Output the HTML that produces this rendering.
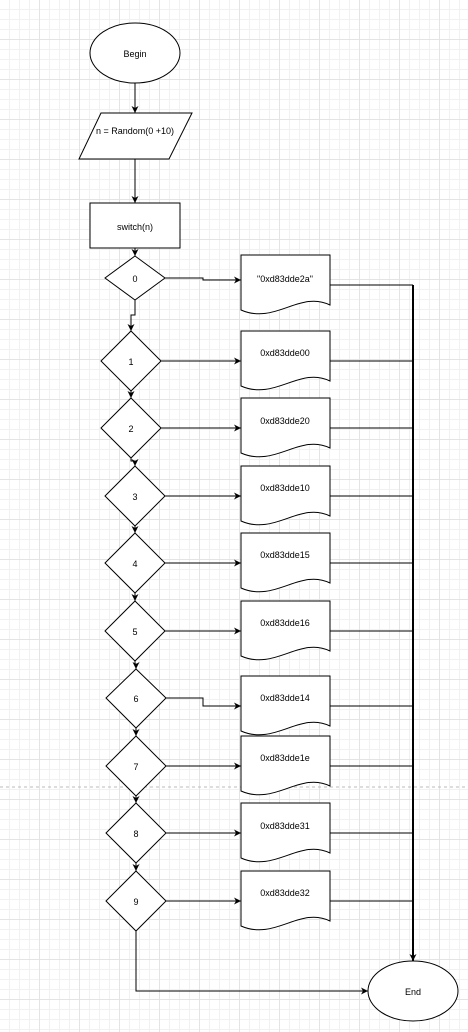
<!DOCTYPE html>
<html><head><meta charset="utf-8"><style>
html,body{margin:0;padding:0;}
body{width:468px;height:1032px;overflow:hidden;background-color:#fff;
background-image:linear-gradient(#e4e4e4 1px,transparent 1px),linear-gradient(90deg,#e4e4e4 1px,transparent 1px),linear-gradient(#f1f1f1 1px,transparent 1px),linear-gradient(90deg,#f1f1f1 1px,transparent 1px);
background-size:40px 40px,40px 40px,10px 10px,10px 10px;background-position:-1px -1px;}
svg{position:absolute;left:0;top:0;}
text{font-family:"Liberation Sans",sans-serif;font-size:9px;fill:#000;text-anchor:middle;}
</style></head><body>
<svg width="468" height="1032" viewBox="0 0 468 1032">
<defs><marker id="a" markerWidth="8" markerHeight="8" refX="7" refY="4" orient="auto" markerUnits="userSpaceOnUse"><path d="M0,0.5 L7,4 L0,7.5 L2,4 Z" fill="#000"/></marker></defs>
<line x1="0" y1="787" x2="468" y2="787" stroke="#bbb" stroke-dasharray="3,3" stroke-width="1"/>
<g stroke="#000" stroke-width="1" fill="#fff">
<ellipse cx="135" cy="53" rx="45" ry="30"/>
<polygon points="101,113 192,113 169,159 79,159"/>
<rect x="90" y="203" width="90" height="45"/>
<polygon points="135,256 165,278 135,300 105,278"/>
<polygon points="131,331 161,361 131,391 101,361"/>
<polygon points="131,398 161,428 131,458 101,428"/>
<polygon points="135,466 165,496 135,526 105,496"/>
<polygon points="135,533 165,563 135,593 105,563"/>
<polygon points="135,601 165,631 135,661 105,631"/>
<polygon points="136,669 166,698 136,728 106,698"/>
<polygon points="136,736 166,766 136,796 106,766"/>
<polygon points="136,803 166,833 136,863 106,833"/>
<polygon points="136,871 166,901 136,931 106,901"/>
<ellipse cx="413" cy="991" rx="45" ry="30"/>
</g>
<g stroke="#000" stroke-width="1" fill="#fff">
<path d="M241,255 H330 V305 C300,290 275,325 241,310 Z"/>
<path d="M241,331 H330 V381 C300,366 275,401 241,386 Z"/>
<path d="M241,398 H330 V448 C300,433 275,468 241,453 Z"/>
<path d="M241,466 H330 V516 C300,501 275,536 241,521 Z"/>
<path d="M241,533 H330 V583 C300,568 275,603 241,588 Z"/>
<path d="M241,601 H330 V651 C300,636 275,671 241,656 Z"/>
<path d="M241,676 H330 V726 C300,711 275,746 241,731 Z"/>
<path d="M241,736 H330 V786 C300,771 275,806 241,791 Z"/>
<path d="M241,803 H330 V853 C300,838 275,873 241,858 Z"/>
<path d="M241,871 H330 V921 C300,906 275,941 241,926 Z"/>
</g>
<g stroke="#000" stroke-width="1" fill="none" marker-end="url(#a)">
<line x1="135" y1="83" x2="135" y2="113"/>
<line x1="135" y1="159" x2="135" y2="203"/>
<line x1="135" y1="248" x2="135" y2="256"/>
<path d="M165,278 H203 V280 H241"/>
<path d="M135,300 V315 H131 V331"/>
<line x1="131" y1="391" x2="131" y2="398"/>
<path d="M131,458 V461 H135 V466"/>
<line x1="135" y1="526" x2="135" y2="533"/>
<line x1="135" y1="593" x2="135" y2="601"/>
<path d="M135,661 V664 H136 V669"/>
<line x1="136" y1="728" x2="136" y2="736"/>
<line x1="136" y1="796" x2="136" y2="803"/>
<line x1="136" y1="863" x2="136" y2="871"/>
<line x1="161" y1="361" x2="241" y2="361"/>
<line x1="161" y1="428" x2="241" y2="428"/>
<line x1="165" y1="496" x2="241" y2="496"/>
<line x1="165" y1="563" x2="241" y2="563"/>
<line x1="165" y1="631" x2="241" y2="631"/>
<path d="M166,698 H203 V706 H241"/>
<line x1="166" y1="766" x2="241" y2="766"/>
<line x1="166" y1="833" x2="241" y2="833"/>
<line x1="166" y1="901" x2="241" y2="901"/>
<path d="M136,931 V991 H368"/>
</g>
<g stroke="#000" stroke-width="1" fill="none">
<path d="M330,285 H413"/><path d="M330,361 H413"/><path d="M330,428 H413"/><path d="M330,496 H413"/><path d="M330,563 H413"/><path d="M330,631 H413"/><path d="M330,706 H413"/><path d="M330,766 H413"/><path d="M330,833 H413"/><path d="M330,901 H413"/>
</g>
<line x1="413" y1="285" x2="413" y2="961" stroke="#000" stroke-width="2" marker-end="url(#a)"/>
<text x="135" y="57">Begin</text>
<text x="135" y="134">n = Random(0 +10)</text>
<text x="135" y="230">switch(n)</text>
<text x="135" y="282">0</text>
<text x="131" y="365">1</text>
<text x="131" y="432">2</text>
<text x="135" y="500">3</text>
<text x="135" y="567">4</text>
<text x="135" y="635">5</text>
<text x="136" y="702">6</text>
<text x="136" y="770">7</text>
<text x="136" y="837">8</text>
<text x="136" y="905">9</text>
<text x="413" y="995">End</text>
<text x="285" y="282">"0xd83dde2a"</text>
<text x="285" y="356">0xd83dde00</text>
<text x="285" y="424">0xd83dde20</text>
<text x="285" y="491">0xd83dde10</text>
<text x="285" y="558">0xd83dde15</text>
<text x="285" y="626">0xd83dde16</text>
<text x="285" y="701">0xd83dde14</text>
<text x="285" y="761">0xd83dde1e</text>
<text x="285" y="829">0xd83dde31</text>
<text x="285" y="896">0xd83dde32</text>
</svg>
</body></html>
